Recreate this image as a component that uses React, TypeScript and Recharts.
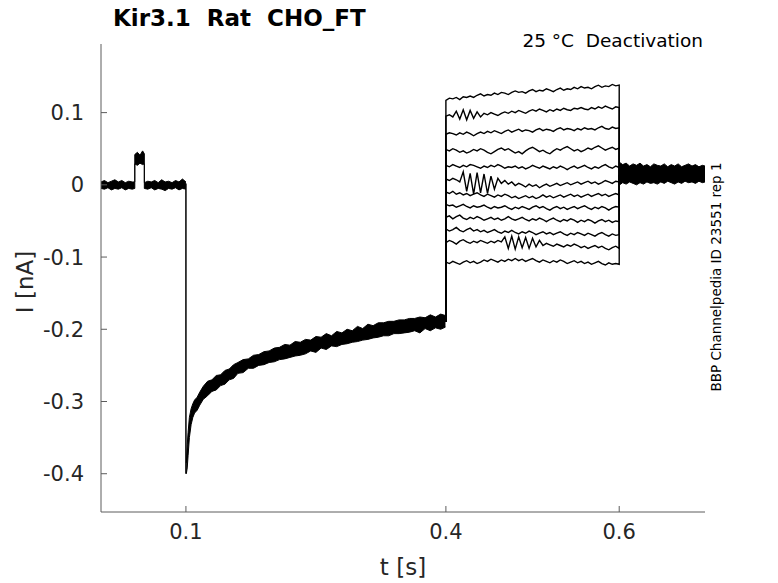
import React from 'react';
import { ComposedChart, Line, Area, XAxis, YAxis } from 'recharts';

// holding potential segment before the pulse (lo/hi envelope of all sweeps)
const PRE_T = [0.002, 0.006, 0.010, 0.014, 0.018, 0.022, 0.026, 0.030, 0.034, 0.038, 0.041,
  0.041, 0.044, 0.047, 0.050, 0.052,
  0.052, 0.056, 0.060, 0.064, 0.068, 0.072, 0.076, 0.080, 0.084, 0.088, 0.092, 0.096, 0.1];
const PRE_LO = [-0.005, -0.006, -0.004, -0.007, -0.005, -0.006, -0.004, -0.007, -0.005, -0.006, -0.005,
  0.029, 0.027, 0.030, 0.028, 0.029,
  -0.005, -0.006, -0.004, -0.007, -0.005, -0.006, -0.008, -0.005, -0.006, -0.004, -0.007, -0.005, -0.006];
const PRE_HI = [0.004, 0.006, 0.003, 0.005, 0.007, 0.004, 0.006, 0.003, 0.005, 0.004, 0.004,
  0.042, 0.045, 0.041, 0.047, 0.043,
  0.003, 0.005, 0.004, 0.006, 0.003, 0.007, 0.004, 0.005, 0.003, 0.006, 0.004, 0.008, 0.004];

// drop at 0.1 s
const DROP_T = [0.1, 0.1];
const DROP_I = [0.002, -0.4];

// recovery during the hyperpolarising step
const REC_T = [0.1005, 0.1015, 0.1025, 0.104, 0.106, 0.108, 0.110, 0.113, 0.116, 0.120,
  0.125, 0.130, 0.135, 0.140, 0.145, 0.150, 0.155, 0.160, 0.166, 0.172,
  0.178, 0.184, 0.190, 0.196, 0.202, 0.208, 0.214, 0.220, 0.226, 0.232,
  0.238, 0.244, 0.250, 0.256, 0.262, 0.268, 0.274, 0.280, 0.286, 0.292,
  0.298, 0.304, 0.310, 0.316, 0.322, 0.328, 0.334, 0.340, 0.346, 0.352,
  0.358, 0.364, 0.370, 0.376, 0.382, 0.388, 0.394, 0.3995];
const REC_LO = [-0.400, -0.392, -0.375, -0.350, -0.332, -0.322, -0.316, -0.312, -0.305, -0.297,
  -0.292, -0.286, -0.284, -0.278, -0.276, -0.270, -0.268, -0.261, -0.260, -0.254,
  -0.254, -0.250, -0.249, -0.246, -0.245, -0.242, -0.241, -0.239, -0.237, -0.236,
  -0.234, -0.230, -0.232, -0.226, -0.228, -0.223, -0.224, -0.221, -0.220, -0.218,
  -0.217, -0.215, -0.214, -0.212, -0.211, -0.209, -0.209, -0.206, -0.206, -0.205,
  -0.204, -0.202, -0.205, -0.199, -0.202, -0.198, -0.200, -0.197];
const REC_HI = [-0.385, -0.360, -0.343, -0.322, -0.310, -0.303, -0.298, -0.294, -0.287, -0.279,
  -0.272, -0.270, -0.264, -0.263, -0.257, -0.255, -0.249, -0.246, -0.242, -0.241,
  -0.236, -0.235, -0.231, -0.230, -0.226, -0.225, -0.221, -0.222, -0.217, -0.218,
  -0.214, -0.215, -0.210, -0.211, -0.206, -0.209, -0.203, -0.205, -0.200, -0.202,
  -0.196, -0.199, -0.193, -0.195, -0.191, -0.191, -0.189, -0.189, -0.187, -0.187,
  -0.185, -0.185, -0.183, -0.184, -0.180, -0.183, -0.179, -0.181];

// test pulses 0.4 .. 0.6 s, one array per sweep
const HOLD_END = -0.19;
const POST_START = 0.014;
const STEP_T = [0.400, 0.404, 0.408, 0.412, 0.416, 0.420, 0.424, 0.428, 0.432, 0.436,
  0.440, 0.444, 0.448, 0.452, 0.456, 0.460, 0.464, 0.468, 0.472, 0.476,
  0.480, 0.484, 0.488, 0.492, 0.496, 0.500, 0.504, 0.508, 0.512, 0.516,
  0.520, 0.524, 0.528, 0.532, 0.536, 0.540, 0.544, 0.548, 0.552, 0.556,
  0.560, 0.564, 0.568, 0.572, 0.576, 0.580, 0.584, 0.588, 0.592, 0.596,
  0.600];
const SWEEP_1 = [0.117, 0.120, 0.119, 0.121, 0.118, 0.122, 0.121, 0.123, 0.121, 0.124,
  0.126, 0.123, 0.125, 0.124, 0.127, 0.125, 0.128, 0.127, 0.125, 0.128,
  0.130, 0.128, 0.129, 0.127, 0.130, 0.132, 0.129, 0.131, 0.130, 0.133,
  0.131, 0.129, 0.132, 0.134, 0.131, 0.133, 0.132, 0.135, 0.133, 0.136,
  0.134, 0.135, 0.133, 0.136, 0.138, 0.135, 0.137, 0.136, 0.139, 0.137,
  0.138];
const SWEEP_2 = [0.095, 0.097, 0.094, 0.102, 0.091, 0.104, 0.090, 0.103, 0.092, 0.101,
  0.094, 0.099, 0.097, 0.100, 0.098, 0.096, 0.099, 0.101, 0.099, 0.102,
  0.100, 0.103, 0.101, 0.099, 0.102, 0.104, 0.102, 0.105, 0.103, 0.101,
  0.104, 0.102, 0.105, 0.103, 0.106, 0.104, 0.103, 0.106, 0.105, 0.107,
  0.105, 0.104, 0.107, 0.105, 0.108, 0.106, 0.109, 0.107, 0.105, 0.108,
  0.107];
const SWEEP_3 = [0.070, 0.072, 0.071, 0.069, 0.072, 0.070, 0.073, 0.071, 0.068, 0.071,
  0.073, 0.071, 0.074, 0.072, 0.075, 0.073, 0.071, 0.074, 0.076, 0.073,
  0.075, 0.077, 0.074, 0.076, 0.075, 0.073, 0.076, 0.078, 0.075, 0.077,
  0.076, 0.074, 0.077, 0.079, 0.076, 0.078, 0.077, 0.075, 0.078, 0.076,
  0.079, 0.077, 0.078, 0.076, 0.079, 0.081, 0.078, 0.077, 0.080, 0.078,
  0.079];
const SWEEP_4 = [0.049, 0.047, 0.050, 0.048, 0.045, 0.047, 0.044, 0.046, 0.049, 0.047,
  0.050, 0.048, 0.045, 0.043, 0.046, 0.049, 0.051, 0.048, 0.050, 0.047,
  0.044, 0.046, 0.043, 0.047, 0.050, 0.052, 0.049, 0.046, 0.048, 0.045,
  0.043, 0.047, 0.050, 0.048, 0.051, 0.053, 0.050, 0.047, 0.049, 0.046,
  0.048, 0.051, 0.049, 0.052, 0.054, 0.051, 0.048, 0.050, 0.052, 0.049,
  0.051];
const SWEEP_5 = [0.027, 0.025, 0.028, 0.026, 0.024, 0.027, 0.025, 0.028, 0.027, 0.025,
  0.023, 0.026, 0.024, 0.027, 0.025, 0.028, 0.026, 0.023, 0.025, 0.024,
  0.026, 0.023, 0.025, 0.022, 0.024, 0.027, 0.025, 0.023, 0.026, 0.024,
  0.022, 0.025, 0.023, 0.026, 0.024, 0.021, 0.024, 0.026, 0.023, 0.025,
  0.027, 0.024, 0.022, 0.025, 0.023, 0.026, 0.028, 0.025, 0.023, 0.026,
  0.024];
const SWEEP_6 = [0.008, 0.006, 0.009, 0.007, 0.004, 0.018, -0.009, 0.016, -0.013, 0.017,
  -0.011, 0.015, -0.012, 0.012, -0.006, 0.009, 0.002, 0.006, 0.001, 0.004,
  -0.001, 0.002, 0.000, -0.003, 0.001, -0.002, 0.000, -0.004, -0.001, 0.001,
  -0.002, 0.000, 0.002, -0.001, 0.001, 0.003, 0.000, 0.002, 0.004, 0.001,
  0.003, 0.005, 0.002, 0.004, 0.001, 0.003, 0.006, 0.004, 0.002, 0.005,
  0.004];
const SWEEP_7 = [-0.010, -0.012, -0.009, -0.013, -0.011, -0.014, -0.012, -0.015, -0.013, -0.011,
  -0.014, -0.016, -0.013, -0.015, -0.017, -0.014, -0.016, -0.013, -0.015, -0.018,
  -0.016, -0.019, -0.017, -0.015, -0.018, -0.016, -0.019, -0.017, -0.014, -0.017,
  -0.015, -0.018, -0.016, -0.014, -0.017, -0.015, -0.013, -0.016, -0.014, -0.017,
  -0.015, -0.013, -0.016, -0.014, -0.012, -0.015, -0.013, -0.016, -0.014, -0.012,
  -0.014];
const SWEEP_8 = [-0.027, -0.029, -0.028, -0.031, -0.029, -0.027, -0.030, -0.032, -0.029, -0.031,
  -0.030, -0.028, -0.031, -0.033, -0.030, -0.032, -0.031, -0.029, -0.032, -0.034,
  -0.031, -0.033, -0.030, -0.032, -0.034, -0.031, -0.029, -0.032, -0.030, -0.033,
  -0.035, -0.032, -0.030, -0.033, -0.031, -0.034, -0.032, -0.030, -0.033, -0.031,
  -0.029, -0.032, -0.034, -0.031, -0.033, -0.030, -0.032, -0.035, -0.032, -0.030,
  -0.031];
const SWEEP_9 = [-0.045, -0.043, -0.047, -0.044, -0.042, -0.046, -0.048, -0.045, -0.047, -0.044,
  -0.046, -0.049, -0.047, -0.045, -0.048, -0.046, -0.049, -0.047, -0.044, -0.047,
  -0.049, -0.047, -0.045, -0.048, -0.050, -0.047, -0.049, -0.046, -0.048, -0.051,
  -0.048, -0.046, -0.049, -0.051, -0.048, -0.050, -0.047, -0.049, -0.052, -0.049,
  -0.051, -0.048, -0.050, -0.053, -0.050, -0.048, -0.051, -0.049, -0.052, -0.050,
  -0.051];
const SWEEP_10 = [-0.061, -0.064, -0.062, -0.059, -0.063, -0.065, -0.062, -0.060, -0.064, -0.062,
  -0.065, -0.063, -0.066, -0.064, -0.062, -0.065, -0.067, -0.064, -0.066, -0.063,
  -0.066, -0.068, -0.065, -0.067, -0.064, -0.066, -0.069, -0.067, -0.065, -0.068,
  -0.066, -0.069, -0.067, -0.065, -0.068, -0.070, -0.067, -0.069, -0.066, -0.068,
  -0.070, -0.067, -0.069, -0.071, -0.068, -0.066, -0.069, -0.071, -0.068, -0.070,
  -0.069];
const SWEEP_11 = [-0.080, -0.077, -0.079, -0.082, -0.078, -0.076, -0.079, -0.081, -0.078, -0.080,
  -0.077, -0.079, -0.081, -0.078, -0.080, -0.077, -0.079, -0.072, -0.088, -0.071,
  -0.089, -0.072, -0.087, -0.073, -0.088, -0.074, -0.086, -0.077, -0.084, -0.081,
  -0.083, -0.085, -0.082, -0.084, -0.086, -0.083, -0.085, -0.082, -0.084, -0.087,
  -0.085, -0.088, -0.086, -0.084, -0.087, -0.085, -0.088, -0.090, -0.087, -0.085,
  -0.088];
const SWEEP_12 = [-0.107, -0.109, -0.106, -0.108, -0.110, -0.107, -0.105, -0.108, -0.106, -0.109,
  -0.107, -0.104, -0.106, -0.103, -0.105, -0.107, -0.104, -0.106, -0.103, -0.105,
  -0.102, -0.105, -0.103, -0.106, -0.104, -0.102, -0.105, -0.107, -0.104, -0.106,
  -0.108, -0.105, -0.107, -0.104, -0.106, -0.109, -0.107, -0.105, -0.108, -0.106,
  -0.109, -0.107, -0.110, -0.108, -0.106, -0.109, -0.111, -0.108, -0.110, -0.109,
  -0.110];
const SWEEPS = [SWEEP_1, SWEEP_2, SWEEP_3, SWEEP_4, SWEEP_5, SWEEP_6,
  SWEEP_7, SWEEP_8, SWEEP_9, SWEEP_10, SWEEP_11, SWEEP_12];

// back to holding after the pulse
const POST_T = [0.6005, 0.604, 0.608, 0.612, 0.616, 0.620, 0.624, 0.628, 0.632, 0.636,
  0.640, 0.644, 0.648, 0.652, 0.656, 0.660, 0.664, 0.668, 0.672, 0.676,
  0.680, 0.684, 0.688, 0.692, 0.696, 0.699];
const POST_LO = [0.000, 0.003, 0.001, 0.004, 0.002, 0.000, 0.003, 0.001, 0.004, 0.002,
  0.003, 0.001, 0.004, 0.002, 0.005, 0.003, 0.001, 0.004, 0.002, 0.005,
  0.003, 0.004, 0.002, 0.005, 0.003, 0.004];
const POST_HI = [0.031, 0.028, 0.030, 0.026, 0.029, 0.027, 0.030, 0.026, 0.028, 0.025,
  0.029, 0.027, 0.026, 0.029, 0.025, 0.028, 0.026, 0.029, 0.025, 0.027,
  0.029, 0.026, 0.028, 0.025, 0.027, 0.026];

const X_TICKS = [0.1, 0.4, 0.6];
const Y_TICKS = [-0.4, -0.3, -0.2, -0.1, 0, 0.1];

const band = (ts: number[], lo: number[], hi: number[]) =>
  ts.map((t, k) => ({ t, band: [lo[k], hi[k]] }));

const preData = band(PRE_T, PRE_LO, PRE_HI);
const recData = band(REC_T, REC_LO, REC_HI);
const postData = band(POST_T, POST_LO, POST_HI);
const dropData = DROP_T.map((t, k) => ({ t, i: DROP_I[k] }));
const sweepData = SWEEPS.map((s) => [
  { t: STEP_T[0], i: HOLD_END },
  ...STEP_T.map((t, k) => ({ t, i: s[k] })),
  { t: STEP_T[STEP_T.length - 1], i: POST_START },
]);

const FONT = 'DejaVu Sans, sans-serif';
const AXIS = '#5c5c5c';
const TEXT = '#262626';

export default function App() {
  return (
    <div style={{ position: 'absolute', left: 0, top: 0, width: 778, height: 583, background: '#fff' }}>
      <ComposedChart width={778} height={583} margin={{ top: 44, right: 73, bottom: 0, left: 0 }}>
        <XAxis
          dataKey="t"
          type="number"
          domain={[0.002, 0.699]}
          ticks={X_TICKS}
          interval={0}
          allowDataOverflow
          height={71}
          tickSize={-6}
          tickMargin={18}
          tickFormatter={(v: number) => String(v)}
          axisLine={{ stroke: AXIS }}
          tickLine={{ stroke: AXIS }}
          tick={{ fill: TEXT, fontSize: 21, fontFamily: FONT }}
        />
        <YAxis
          type="number"
          domain={[-0.453, 0.195]}
          ticks={Y_TICKS}
          interval={0}
          allowDataOverflow
          width={101}
          tickSize={-6}
          tickMargin={23}
          tickFormatter={(v: number) => String(v)}
          axisLine={{ stroke: AXIS }}
          tickLine={{ stroke: AXIS }}
          tick={{ fill: TEXT, fontSize: 21, fontFamily: FONT }}
        />
        <Area data={preData} dataKey="band" type="linear" stroke="#000" strokeWidth={1} fill="#000" fillOpacity={1} dot={false} activeDot={false} isAnimationActive={false} />
        <Area data={recData} dataKey="band" type="linear" stroke="#000" strokeWidth={1} fill="#000" fillOpacity={1} dot={false} activeDot={false} isAnimationActive={false} />
        <Area data={postData} dataKey="band" type="linear" stroke="#000" strokeWidth={1} fill="#000" fillOpacity={1} dot={false} activeDot={false} isAnimationActive={false} />
        <Line data={dropData} dataKey="i" type="linear" stroke="#000" strokeWidth={1.5} dot={false} activeDot={false} isAnimationActive={false} />
        {sweepData.map((d, k) => (
          <Line key={k} data={d} dataKey="i" type="linear" stroke="#000" strokeWidth={1.4} dot={false} activeDot={false} isAnimationActive={false} />
        ))}
      </ComposedChart>
      <svg width={778} height={583} style={{ position: 'absolute', left: 0, top: 0, pointerEvents: 'none' }}>
        <text x={113} y={26} fontFamily={FONT} fontSize={23} fontWeight="bold" fill="#000" style={{ whiteSpace: 'pre' }}>
          Kir3.1  Rat  CHO_FT
        </text>
        <text x={703} y={47} textAnchor="end" fontFamily={FONT} fontSize={18.5} fill="#000" style={{ whiteSpace: 'pre' }}>
          25 °C  Deactivation
        </text>
        <text x={403} y={575} textAnchor="middle" fontFamily={FONT} fontSize={23} fill={TEXT}>
          t [s]
        </text>
        <text transform="translate(33,282) rotate(-90)" textAnchor="middle" fontFamily={FONT} fontSize={23} fill={TEXT}>
          I [nA]
        </text>
        <text transform="translate(721,277) rotate(-90)" textAnchor="middle" fontFamily={FONT} fontSize={13.5} fill="#000">
          BBP Channelpedia ID 23551 rep 1
        </text>
      </svg>
    </div>
  );
}
